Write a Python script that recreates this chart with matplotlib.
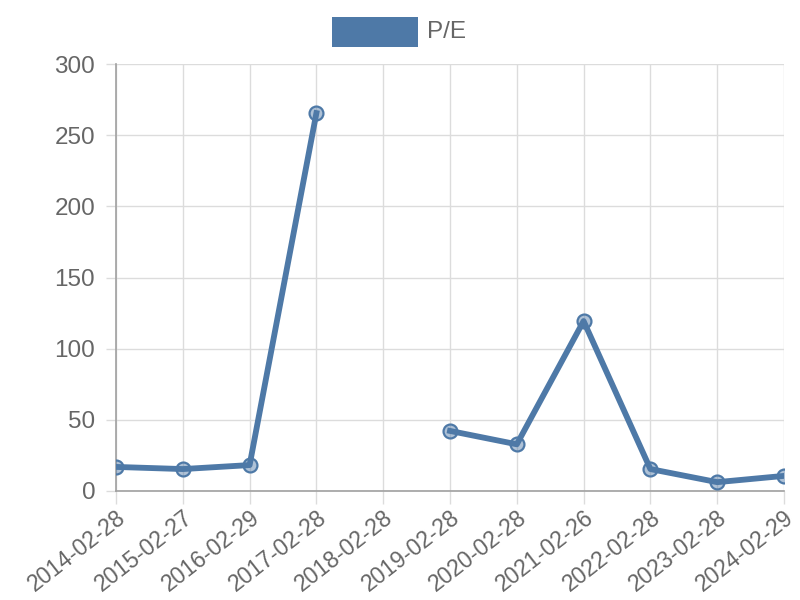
import numpy as np
import matplotlib.pyplot as plt
from matplotlib.patches import Rectangle

plt.rcParams['font.family'] = ['Liberation Sans', 'DejaVu Sans']

dates = ["2014-02-28", "2015-02-27", "2016-02-29", "2017-02-28", "2018-02-28",
         "2019-02-28", "2020-02-28", "2021-02-26", "2022-02-28", "2023-02-28",
         "2024-02-29"]
pe = [16.9, 15.4, 18.2, 265.5, np.nan, 42.2, 32.8, 119.4, 15.4, 6.2, 10.6]
yticks = [0, 50, 100, 150, 200, 250, 300]

line_color = '#4e79a7'
text_color = '#666666'
grid_color = '#dcdcdc'

fig = plt.figure(figsize=(8, 6), dpi=100)
ax = fig.add_axes([0.145, 0.1817, 0.835, 0.7116])

x = np.arange(len(dates))
ax.plot(x, pe, color=line_color, linewidth=4.2, zorder=3)
ax.plot(x, pe, linestyle='none', marker='o', markersize=10,
        markerfacecolor=(0.306, 0.475, 0.655, 0.45), markeredgecolor=line_color,
        markeredgewidth=1.6, zorder=4)

ax.set_xlim(0, len(dates) - 1)
ax.set_ylim(0, 300)
ax.set_xticks(x)
ax.set_xticklabels(dates, rotation=38, ha='right', rotation_mode='anchor')
ax.set_yticks(yticks)

ax.grid(True, color=grid_color, linewidth=1)
ax.set_axisbelow(True)
for s in ['top', 'right']:
    ax.spines[s].set_visible(False)
for s in ['left', 'bottom']:
    ax.spines[s].set_color('#a0a0a0')
    ax.spines[s].set_linewidth(1.2)
ax.tick_params(axis='both', colors=grid_color, labelcolor=text_color, width=1)
ax.tick_params(axis='y', labelsize=17.5, length=7, pad=8)
ax.tick_params(axis='x', labelsize=16.5, length=9, pad=2)
ax.get_xticklines()[0].set_color('#a0a0a0')

# legend drawn as in the reference
fig.patches.append(Rectangle((332 / 800, 1 - 47 / 600), 86 / 800, 30 / 600,
                             transform=fig.transFigure, facecolor=line_color,
                             edgecolor='none'))
fig.text(427 / 800, 1 - 32 / 600, "P/E", color=text_color, fontsize=17.5,
         va='center', ha='left')

fig.savefig("out.png", dpi=100)
